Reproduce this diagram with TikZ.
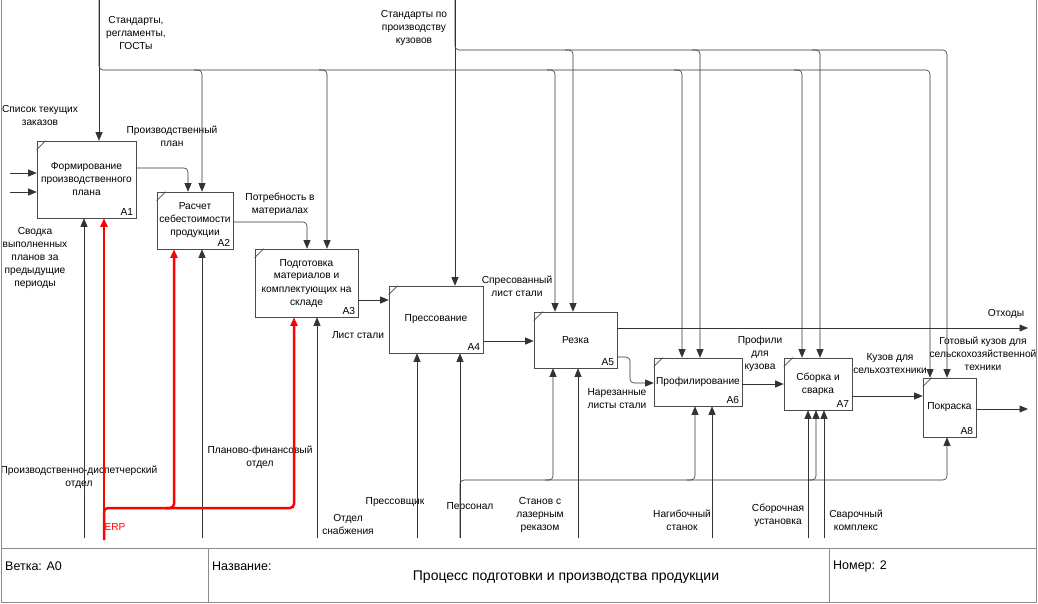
\documentclass[tikz,border=0pt]{standalone}
\usepackage{fontspec}
\setmainfont{Liberation Sans}
\usetikzlibrary{arrows.meta,positioning}
\tikzset{
  func/.style={draw=black!70,line width=0.6pt,align=center,inner sep=1pt,
    font=\fontsize{10.2}{13}\selectfont},
  corner/.style={draw=black!70,line width=0.6pt},
  flow/.style={-{Triangle[length=8.5pt,width=7pt]},draw=black!80,
    line width=0.6pt,rounded corners=4pt},
  erpflow/.style={flow,draw=red,line width=2.5pt},
  tag/.style={align=center,font=\fontsize{10.2}{13}\selectfont,inner sep=0pt},
  boxnum/.style={anchor=south east,font=\fontsize{10.2}{12}\selectfont,inner sep=3pt},
  frame/.style={draw=black!45,line width=0.8pt},
  sheet/.style={anchor=west,font=\fontsize{12.5}{15}\selectfont,inner sep=0pt}
}
\begin{document}
\begin{tikzpicture}[x=1pt,y=-1pt]
  \useasboundingbox (0,0) rectangle (1038,603);
  % functions
  \node[func,minimum width=99pt,minimum height=77pt] (A1) at (86.5,179.5) {Формирование\\производственного\\плана};
  \node[func,minimum width=76pt,minimum height=57pt] (A2) at (195,220.5) {Расчет\\себестоимости\\продукции};
  \node[func,minimum width=103pt,minimum height=68pt] (A3) at (306.5,283) {Подготовка\\материалов и\\комплектующих на\\складе};
  \node[func,minimum width=94pt,minimum height=67pt] (A4) at (436,319.5) {Прессование};
  \node[func,minimum width=83pt,minimum height=56pt] (A5) at (575.5,340) {Резка};
  \node[func,minimum width=88pt,minimum height=48pt] (A6) at (698,382) {Профилирование};
  \node[func,minimum width=68pt,minimum height=52pt] (A7) at (818,384) {Сборка и\\сварка};
  \node[func,minimum width=53pt,minimum height=59pt] (A8) at (949.5,407.5) {Покраска};
  \foreach \i in {1,...,8} {
    \draw[corner] ([yshift=-9pt]A\i.north west) -- ([xshift=9pt]A\i.north west);
    \node[boxnum] (num\i) at (A\i.south east) {A\i};
  }

  % labels
  \node[tag] (lgost) at (136,33) {Стандарты,\\регламенты,\\ГОСТы};
  \node[tag] (lkuz) at (414,28) {Стандарты по\\производству\\кузовов};
  \node[tag] (lorders) at (40,115) {Список текущих\\заказов};
  \node[tag] (lsummary) at (35,258) {Сводка\\выполненных\\планов за\\предыдущие\\периоды};
  \node[tag] (lplan) at (172,136) {Производственный\\план};
  \node[tag] (lneed) at (280,204) {Потребность в\\материалах};
  \node[tag] (lsheet) at (358,335) {Лист стали};
  \node[tag] (lpressed) at (517,286) {Спресованный\\лист стали};
  \node[tag] (lwaste) at (1006,314) {Отходы};
  \node[tag] (lcut) at (617,399) {Нарезанные\\листы стали};
  \node[tag] (lprof) at (760,354) {Профили\\для\\кузова};
  \node[tag] (lframe) at (890,364) {Кузов для\\сельхозтехники};
  \node[tag] (lready) at (983,354) {Готовый кузов для\\сельскохозяйственной\\техники};
  \node[tag] (lpdo) at (79,477) {Производственно-диспетчерский\\отдел};
  \node[tag,text=red] (lerp) at (115,527) {ERP};
  \node[tag] (lpfo) at (260,457) {Планово-финансовый\\отдел};
  \node[tag] (lsnab) at (348,524) {Отдел\\снабжения};
  \node[tag] (lpress) at (395,502) {Прессовщик};
  \node[tag] (lpers) at (470,507) {Персонал};
  \node[tag] (llaser) at (540,515) {Станов с\\лазерным\\реказом};
  \node[tag] (lbend) at (682,520) {Нагибочный\\станок};
  \node[tag] (lassem) at (778,515) {Сборочная\\установка};
  \node[tag] (lweld) at (856,520) {Сварочный\\комплекс};

  % controls
  \coordinate (gost) at (99,0);
  \coordinate (kuz) at (455,0);
  \draw[flow] (gost) -- (A1.north -| gost);
  \draw[flow] (gost) |- (930,70) -- (A8.north -| 930,0);
  \foreach \n/\x in {A2/202,A3/327,A5/555,A6/682,A7/802}
    \draw[flow] (\x-8,70) -| (\n.north -| \x,0);
  \draw[flow] (kuz) -- (A4.north -| kuz);
  \draw[flow] (kuz) |- (947,50) -- (A8.north -| 947,0);
  \foreach \n/\x in {A5/573,A6/700,A7/820}
    \draw[flow] (\x-8,50) -| (\n.north -| \x,0);

  % inputs and outputs
  \coordinate (in1) at (10,173);
  \coordinate (in2) at (10,192);
  \coordinate (waste) at (1028,328);
  \coordinate (body) at (1028,409);
  \draw[flow] (in1) -- (A1.west |- in1);
  \draw[flow] (in2) -- (A1.west |- in2);
  \draw[flow] (A1.east |- 0,168) -| (A2.north -| 188,0);
  \draw[flow] (A2.east |- 0,222) -| (A3.north -| 307,0);
  \draw[flow] (A3.east |- 0,300) -- (A4.west |- 0,300);
  \draw[flow] (A4.east |- 0,341) -- (A5.west |- 0,341);
  \draw[flow] (A5.east |- waste) -- (waste);
  \draw[flow] (A5.east |- 0,357) -| (630,370) |- (A6.west |- 0,383);
  \draw[flow] (A6.east |- 0,384) -- (A7.west |- 0,384);
  \draw[flow] (A7.east |- 0,396) -- (A8.west |- 0,396);
  \draw[flow] (A8.east |- body) -- (body);

  % mechanisms
  \coordinate (pdo) at (84,538);
  \coordinate (pfo) at (202,538);
  \coordinate (snab) at (317,538);
  \coordinate (press) at (417,538);
  \coordinate (pers) at (460,538);
  \coordinate (laser) at (578,538);
  \coordinate (bend) at (712,538);
  \coordinate (assem) at (808,538);
  \coordinate (weld) at (824,538);
  \coordinate (erp) at (104,540);
  \foreach \n/\c in {A1/pdo,A2/pfo,A3/snab,A4/press,A4/pers,A5/laser,A6/bend,A7/assem,A7/weld}
    \draw[flow] (\c) -- (\n.south -| \c);
  \draw[flow] (pers) |- (947,480) -- (A8.south -| 947,0);
  \foreach \n/\x in {A5/553,A6/695,A7/816}
    \draw[flow] (\x-8,480) -| (\n.south -| \x,0);
  \draw[erpflow] (erp) -- (A1.south -| erp);
  \draw[erpflow] (erp) |- (294,508) -- (A3.south -| 294,0);
  \draw[erpflow] (166,508) -| (A2.south -| 174,0);

  % sheet frame
  \draw[frame] (1,0) -- (1,602) -- (1036,602) -- (1036,0);
  \draw[frame] (1,548) -- (1036,548);
  \draw[frame] (208,548) -- (208,602);
  \draw[frame] (829,548) -- (829,602);
  \node[sheet] (branch) at (5,566) {Ветка: A0};
  \node[sheet] (title) at (212,566) {Название:};
  \node[sheet,anchor=center,font=\fontsize{14}{16}\selectfont] (process) at (566,577) {Процесс подготовки и производства продукции};
  \node[sheet] (number) at (833,566) {Номер: 2};
\end{tikzpicture}
\end{document}
